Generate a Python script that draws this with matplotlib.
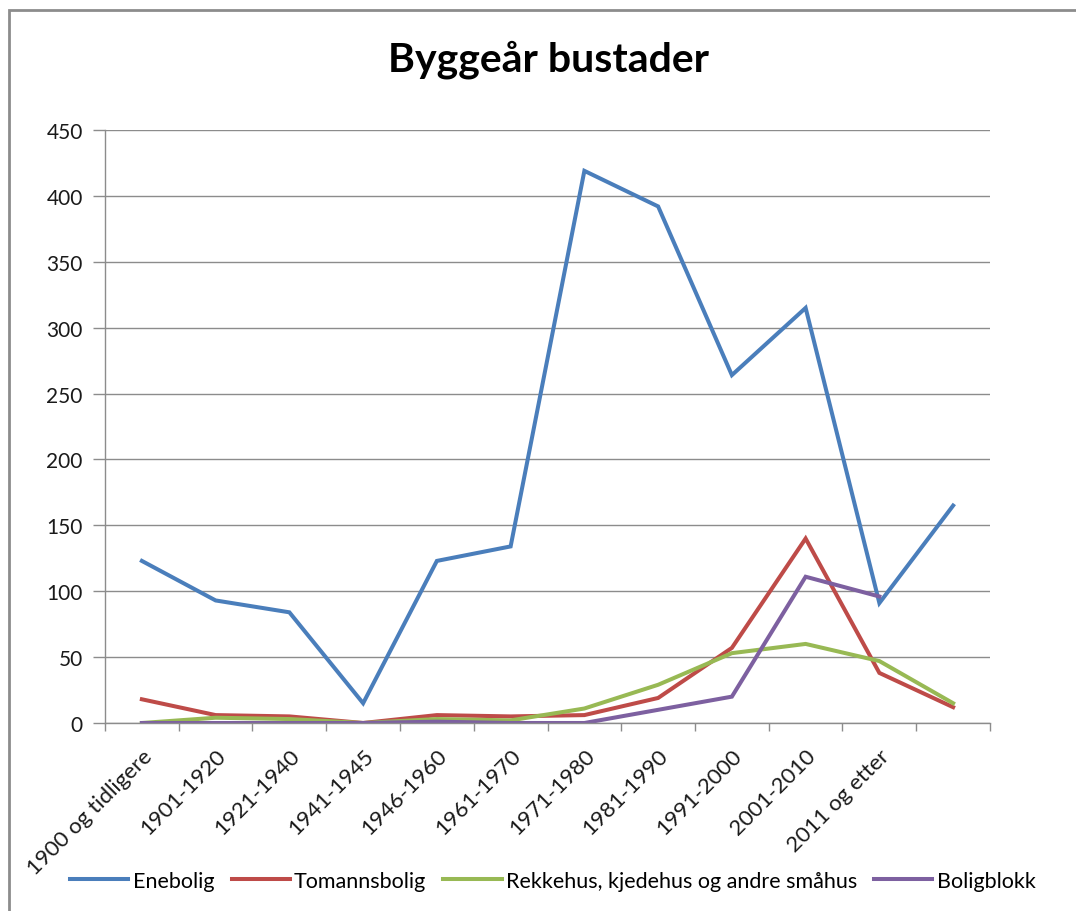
import matplotlib.pyplot as plt
import numpy as np
from matplotlib.patches import Rectangle

plt.rcParams['font.family'] = ['Lato', 'DejaVu Sans']

# --- data ---
categories = ['1900 og tidligere', '1901-1920', '1921-1940', '1941-1945',
              '1946-1960', '1961-1970', '1971-1980', '1981-1990',
              '1991-2000', '2001-2010', '2011 og etter', '']
enebolig = [123, 93, 84, 15, 123, 134, 419, 392, 264, 315, 91, 165]
tomannsbolig = [18, 6, 5, 0, 6, 5, 6, 19, 57, 140, 38, 12]
rekkehus = [0, 4, 3, 0, 3, 2, 11, 29, 53, 60, 47, 15]
boligblokk = [0, 0, 0, 0, 1, 0, 0, 10, 20, 111, 96]

series = [
    ('Enebolig', enebolig, '#4A7EBB'),
    ('Tomannsbolig', tomannsbolig, '#BE4B48'),
    ('Rekkehus, kjedehus og andre småhus', rekkehus, '#98B954'),
    ('Boligblokk', boligblokk, '#7D60A0'),
]

fig = plt.figure(figsize=(10.76, 9.12), dpi=100)
ax = fig.add_axes([105/1076, 1 - 724/912, 885/1076, 593/912])

for name, vals, col in series:
    ax.plot(np.arange(len(vals)), vals, color=col, lw=2.9, label=name,
            solid_joinstyle='miter')

n = len(categories)
ax.set_xlim(-0.5, n - 0.5)
ax.set_ylim(0, 450)
ax.set_yticks(np.arange(0, 451, 50))
ax.yaxis.grid(True, color='#8c8c8c', lw=1)
ax.set_axisbelow(True)

# category boundaries get the tick marks, centres get the labels
ax.set_xticks(np.arange(-0.5, n, 1))
ax.set_xticklabels([])
ax.set_xticks(np.arange(n), minor=True)
ax.set_xticklabels(categories, minor=True, rotation=45, ha='right',
                   rotation_mode='anchor', fontsize=16, color='#1a1a1a')
ax.tick_params(axis='x', which='major', length=6, color='#8c8c8c', width=1)
ax.tick_params(axis='x', which='minor', length=0, pad=16)
ax.tick_params(axis='y', length=9, color='#8c8c8c', width=1, labelsize=15,
               labelcolor='#1a1a1a', pad=7)

for s in ['top', 'right']:
    ax.spines[s].set_visible(False)
for s in ['left', 'bottom']:
    ax.spines[s].set_color('#8c8c8c')
    ax.spines[s].set_linewidth(1)

fig.text(549/1076, 1 - 60/912, 'Byggeår bustader', ha='center', va='center',
         fontsize=29.5, fontweight='bold')

fig.legend(loc='center', bbox_to_anchor=(553/1076, 1 - 882/912), ncol=4,
           frameon=False, fontsize=15.5, handlelength=2.7, handletextpad=0.2,
           columnspacing=0.8)

fig.patches.append(Rectangle((9/1076, -0.1), 1.2, 1 - 11/912 + 0.1,
                             transform=fig.transFigure, fill=False,
                             edgecolor='#8c8c8c', lw=2))

fig.savefig('out.png', dpi=100)
